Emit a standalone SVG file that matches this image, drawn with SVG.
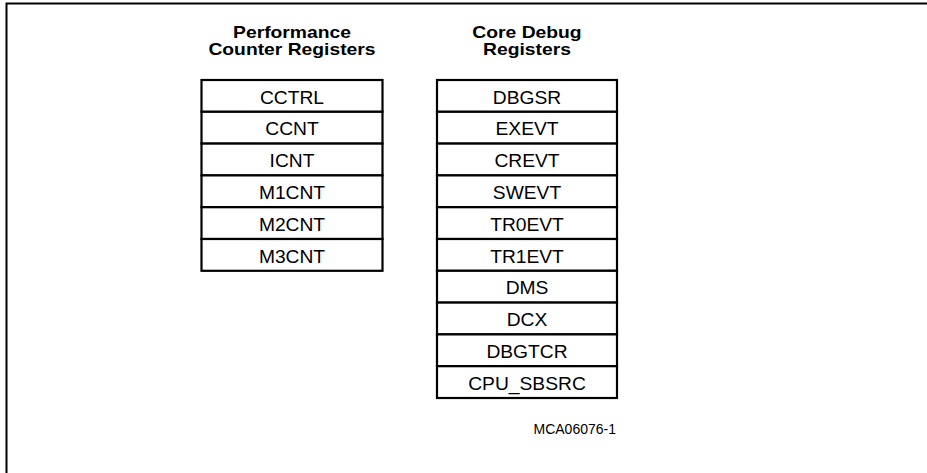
<svg xmlns="http://www.w3.org/2000/svg" width="927" height="473" viewBox="0 0 927 473">
<style>
.cell{fill:#fff;stroke:#000;stroke-width:2.2}
.t{font-family:"Liberation Sans",Arial,sans-serif;font-size:17.5px;fill:#000;text-anchor:middle}
.h{font-family:"Liberation Sans",Arial,sans-serif;font-size:16.5px;font-weight:bold;fill:#000;text-anchor:middle}
.f{font-family:"Liberation Sans",Arial,sans-serif;font-size:14px;fill:#000}
</style>
<rect width="927" height="473" fill="#fff"/>
<path d="M6.5,473 V3.5 H927" fill="none" stroke="#000" stroke-width="2"/>
<g id="hdr-perf">
<text class="h" transform="translate(292,37.5) scale(1.17,1)">Performance</text>
<text class="h" transform="translate(292,55) scale(1.17,1)">Counter Registers</text>
</g>
<g id="hdr-debug">
<text class="h" transform="translate(527,37.5) scale(1.17,1)">Core Debug</text>
<text class="h" transform="translate(527,55) scale(1.17,1)">Registers</text>
</g>
<g id="connectors"></g>
<g id="perf">
<g id="CCTRL"><rect class="cell" x="201.5" y="80" width="181" height="31.8"/><text class="t" transform="translate(292,103.5) scale(1.1,1)">CCTRL</text></g>
<g id="CCNT"><rect class="cell" x="201.5" y="111.8" width="181" height="31.8"/><text class="t" transform="translate(292,135.3) scale(1.1,1)">CCNT</text></g>
<g id="ICNT"><rect class="cell" x="201.5" y="143.6" width="181" height="31.8"/><text class="t" transform="translate(292,167.1) scale(1.1,1)">ICNT</text></g>
<g id="M1CNT"><rect class="cell" x="201.5" y="175.4" width="181" height="31.8"/><text class="t" transform="translate(292,198.9) scale(1.1,1)">M1CNT</text></g>
<g id="M2CNT"><rect class="cell" x="201.5" y="207.2" width="181" height="31.8"/><text class="t" transform="translate(292,230.7) scale(1.1,1)">M2CNT</text></g>
<g id="M3CNT"><rect class="cell" x="201.5" y="239" width="181" height="31.8"/><text class="t" transform="translate(292,262.5) scale(1.1,1)">M3CNT</text></g>
</g>
<g id="debug">
<g id="DBGSR"><rect class="cell" x="437" y="80" width="180" height="31.8"/><text class="t" transform="translate(527,103.5) scale(1.1,1)">DBGSR</text></g>
<g id="EXEVT"><rect class="cell" x="437" y="111.8" width="180" height="31.8"/><text class="t" transform="translate(527,135.3) scale(1.1,1)">EXEVT</text></g>
<g id="CREVT"><rect class="cell" x="437" y="143.6" width="180" height="31.8"/><text class="t" transform="translate(527,167.1) scale(1.1,1)">CREVT</text></g>
<g id="SWEVT"><rect class="cell" x="437" y="175.4" width="180" height="31.8"/><text class="t" transform="translate(527,198.9) scale(1.1,1)">SWEVT</text></g>
<g id="TR0EVT"><rect class="cell" x="437" y="207.2" width="180" height="31.8"/><text class="t" transform="translate(527,230.7) scale(1.1,1)">TR0EVT</text></g>
<g id="TR1EVT"><rect class="cell" x="437" y="239" width="180" height="31.8"/><text class="t" transform="translate(527,262.5) scale(1.1,1)">TR1EVT</text></g>
<g id="DMS"><rect class="cell" x="437" y="270.8" width="180" height="31.8"/><text class="t" transform="translate(527,294.3) scale(1.1,1)">DMS</text></g>
<g id="DCX"><rect class="cell" x="437" y="302.6" width="180" height="31.8"/><text class="t" transform="translate(527,326.1) scale(1.1,1)">DCX</text></g>
<g id="DBGTCR"><rect class="cell" x="437" y="334.4" width="180" height="31.8"/><text class="t" transform="translate(527,357.9) scale(1.1,1)">DBGTCR</text></g>
<g id="CPU_SBSRC"><rect class="cell" x="437" y="366.2" width="180" height="31.8"/><text class="t" transform="translate(527,389.7) scale(1.1,1)">CPU_SBSRC</text></g>
</g>
<g id="label"><text class="f" x="533.5" y="434.3">MCA06076-1</text></g>
</svg>
